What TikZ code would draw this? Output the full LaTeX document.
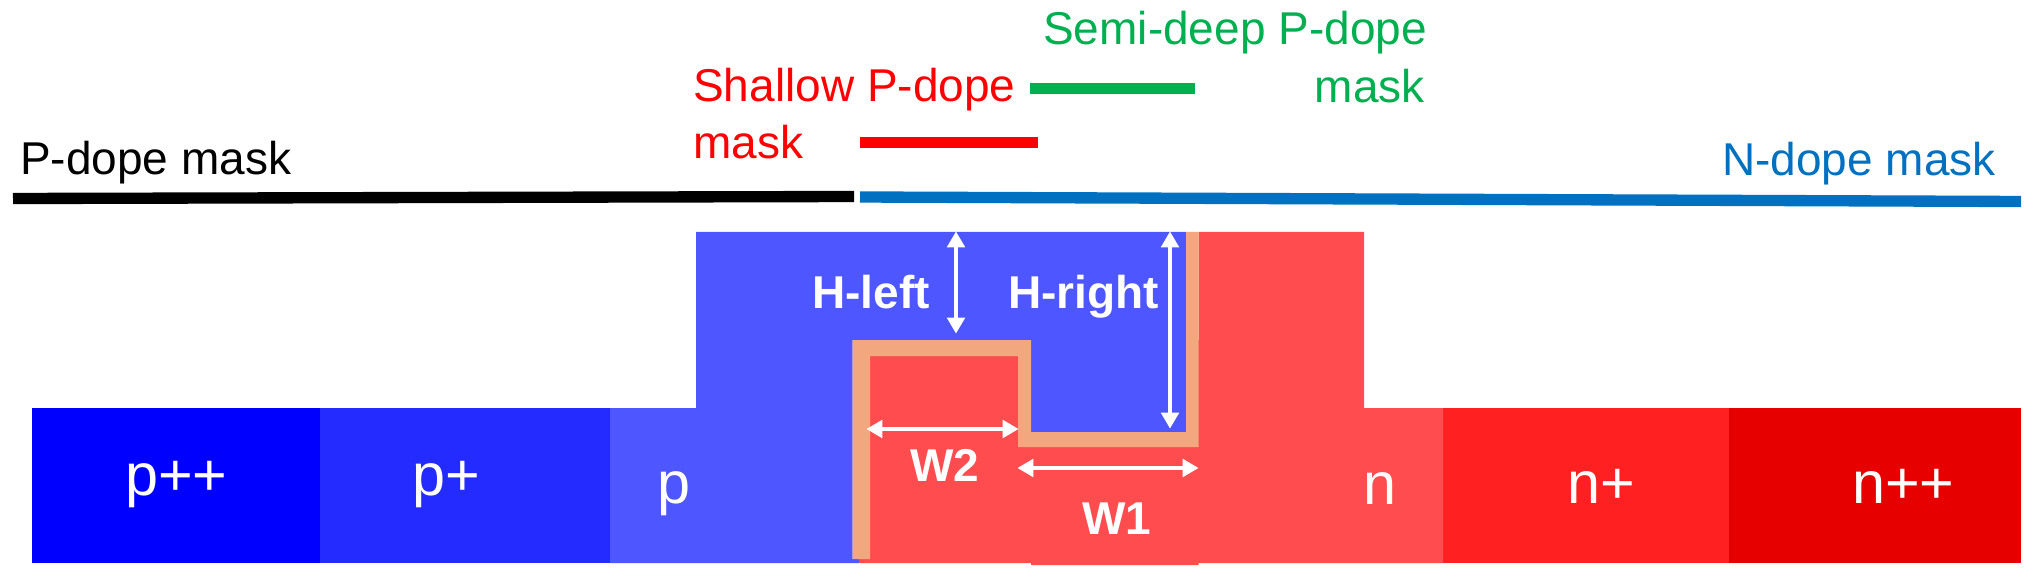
\documentclass[tikz,border=0pt]{standalone}
\usepackage{fontspec}
\setmainfont{Liberation Sans}
\usetikzlibrary{arrows.meta}
\definecolor{PPlusPlus}{RGB}{0,0,255}
\definecolor{PPlus}{RGB}{35,43,255}
\definecolor{PBase}{RGB}{77,86,255}
\definecolor{NBase}{RGB}{255,77,79}
\definecolor{NPlus}{RGB}{255,32,34}
\definecolor{NPlusPlus}{RGB}{230,0,0}
\definecolor{OxideOrange}{RGB}{242,167,126}
\definecolor{MaskGreen}{RGB}{0,176,80}
\definecolor{MaskBlue}{RGB}{0,112,192}
\definecolor{MaskRed}{RGB}{255,0,0}

\begin{document}
\begin{tikzpicture}[
        x=0.75pt,y=-0.75pt,
        lbl/.style={anchor=base west,inner sep=0pt,font=\fontsize{34.5}{40}\selectfont},
        doping/.style={anchor=base west,inner sep=0pt,text=white,font=\fontsize{44.5}{50}\selectfont},
        dim/.style={anchor=base west,inner sep=0pt,text=white,font=\fontsize{34.5}{40}\selectfont\bfseries},
        maskline/.style={line width=8.5pt},
        arr/.style={{Triangle[length=12pt,width=13pt]}-{Triangle[length=12pt,width=13pt]},line width=3.5pt,draw=white,shorten >=-0.5pt,shorten <=-0.5pt}
      ]
        \useasboundingbox (0,0) rectangle (2033,577);
        % substrate
        \fill[PPlusPlus] (31.5,408) rectangle (320,563);
        \fill[PPlus] (320,408) rectangle (610,563);
        \fill[NPlus] (1443,408) rectangle (1729,563);
        \fill[NPlusPlus] (1729,408) rectangle (2021,563);
        \fill[NBase] (859,340) -- (1198.5,340) -- (1198.5,232) -- (1364,232) -- (1364,408) -- (1443,408) -- (1443,563) -- (1198.5,563) -- (1198.5,565) -- (1031,565) -- (1031,563) -- (859,563) -- cycle;
        \fill[PBase] (610,408) -- (696,408) -- (696,232) -- (1186,232) -- (1186,432) -- (1031,432) -- (1031,340) -- (852.5,340) -- (852.5,559) -- (859,559) -- (859,563) -- (610,563) -- cycle;
        \fill[OxideOrange] (852.5,340) -- (1031,340) -- (1031,432) -- (1186,432) -- (1186,232) -- (1198.5,232) -- (1198.5,447) -- (1018,447) -- (1018,356) -- (870,356) -- (870,559) -- (852.5,559) -- cycle;
        % masks
        \coordinate (pmaskL) at (13,198.5);
        \coordinate (pmaskR) at (854,196.5);
        \coordinate (nmaskL) at (860,197);
        \coordinate (nmaskR) at (2021,201.5);
        \coordinate (shallowL) at (860,142.5);
        \coordinate (shallowR) at (1037.5,142.5);
        \coordinate (semiL) at (1030,88.5);
        \coordinate (semiR) at (1195,88.5);
        \draw[maskline,black] (pmaskL) -- (pmaskR);
        \draw[maskline,MaskBlue] (nmaskL) -- (nmaskR);
        \draw[maskline,MaskRed] (shallowL) -- (shallowR);
        \draw[maskline,MaskGreen] (semiL) -- (semiR);
        \node[lbl] (pmask) at (20,175) {P-dope mask};
        \node[lbl,text=MaskBlue] (nmask) at (1722,176) {N-dope mask};
        \node[lbl,text=MaskRed] (shallow1) at (693,102) {Shallow P-dope};
        \node[lbl,text=MaskRed] (shallow2) at (693,159) {mask};
        \node[lbl,text=MaskGreen] (semi1) at (1043,45) {Semi-deep P-dope};
        \node[lbl,text=MaskGreen,anchor=base east] (semi2) at (1425,103) {mask};
        % doping labels
        \node[doping] (ppp) at (125,495) {p++};
        \node[doping] (pp) at (412,495) {p+};
        \node[doping] (p) at (657,503) {p};
        \node[doping] (n) at (1363,504) {n};
        \node[doping] (np) at (1567,503) {n+};
        \node[doping] (npp) at (1852,503) {n++};
        % dimensions
        \node[dim] (hleft) at (812,308) {H-left};
        \node[dim] (hright) at (1008,308) {H-right};
        \node[dim] (wtwo) at (910,481) {W2};
        \node[dim] (wone) at (1082,534) {W1};
        \coordinate (hleftT) at (956,232);
        \coordinate (hleftB) at (956,333);
        \coordinate (hrightT) at (1170,232);
        \coordinate (hrightB) at (1170,428);
        \coordinate (wtwoL) at (867,429);
        \coordinate (wtwoR) at (1018,429);
        \coordinate (woneL) at (1018,468);
        \coordinate (woneR) at (1198,468);
        \draw[arr] (hleftT) -- (hleftB);
        \draw[arr] (hrightT) -- (hrightB);
        \draw[arr] (wtwoL) -- (wtwoR);
        \draw[arr] (woneL) -- (woneR);
      \end{tikzpicture}
\end{document}
